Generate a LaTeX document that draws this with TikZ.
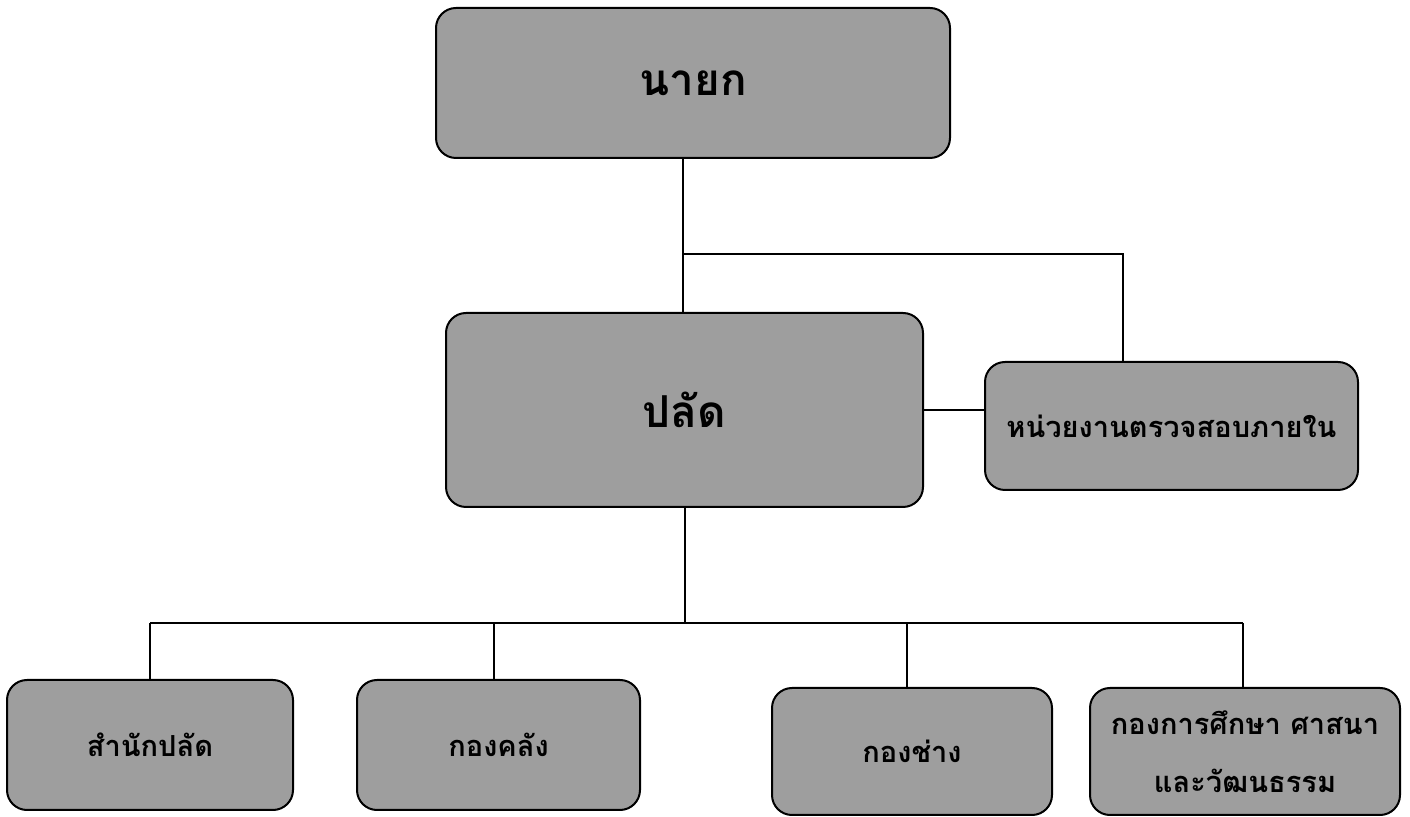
\documentclass[tikz,border=0pt]{standalone}
\usepackage{fontspec}
\newfontfamily\thaifont[Script=Thai]{Loma}
\usetikzlibrary{calc}
\definecolor{boxgray}{gray}{0.62}
\tikzset{
  orgbox/.style={draw=black, line width=1pt, fill=boxgray, rounded corners=10pt,
    inner sep=0pt, align=center, font=\thaifont\bfseries},
  big/.style={font=\thaifont\bfseries\fontsize{22}{26}\selectfont},
  small/.style={font=\thaifont\bfseries\fontsize{14.5}{29}\selectfont},
  link/.style={draw=black, line width=1pt}
}
\begin{document}
\begin{tikzpicture}[x=0.5pt, y=-0.5pt]
\useasboundingbox (0,0) rectangle (1410,817);
\node[orgbox, big, minimum width=257pt, minimum height=75pt] (naiyok) at (693,83) {นายก};
\node[orgbox, big, minimum width=238.5pt, minimum height=97pt] (palad) at (684.5,410) {ปลัด};
\node[orgbox, small, minimum width=186.5pt, minimum height=64pt] (audit) at (1171.5,426) {หน่วยงานตรวจสอบภายใน};
\node[orgbox, small, minimum width=143pt, minimum height=65pt] (b1) at (150,745) {สำนักปลัด};
\node[orgbox, small, minimum width=141.5pt, minimum height=65pt] (b2) at (498.5,745) {กองคลัง};
\node[orgbox, small, minimum width=140pt, minimum height=63.5pt] (b3) at (912,751.5) {กองช่าง};
\node[orgbox, small, minimum width=155pt, minimum height=63.5pt] (b4) at (1245,751.5) {กองการศึกษา ศาสนา\\และวัฒนธรรม};
\coordinate (j1) at (683,254);
\coordinate (j2) at (1123,254);
\coordinate (j3) at (685,623);
\coordinate (jl) at (150,623);
\coordinate (jr) at (1243,623);
\draw[link] (naiyok.south -| j1) -- (palad.north -| j1);
\draw[link] (j1) -- (j2) -- (j2 |- audit.north);
\draw[link] (palad.east) -- (palad.east -| audit.west);
\draw[link] (palad.south -| j3) -- (j3);
\draw[link] (jl) -- (jr);
\draw[link] (jl) -- (b1.north -| jl);
\draw[link] (494,623) -- (b2.north -| 494,0);
\draw[link] (907,623) -- (b3.north -| 907,0);
\draw[link] (jr) -- (b4.north -| jr);
\end{tikzpicture}
\end{document}
